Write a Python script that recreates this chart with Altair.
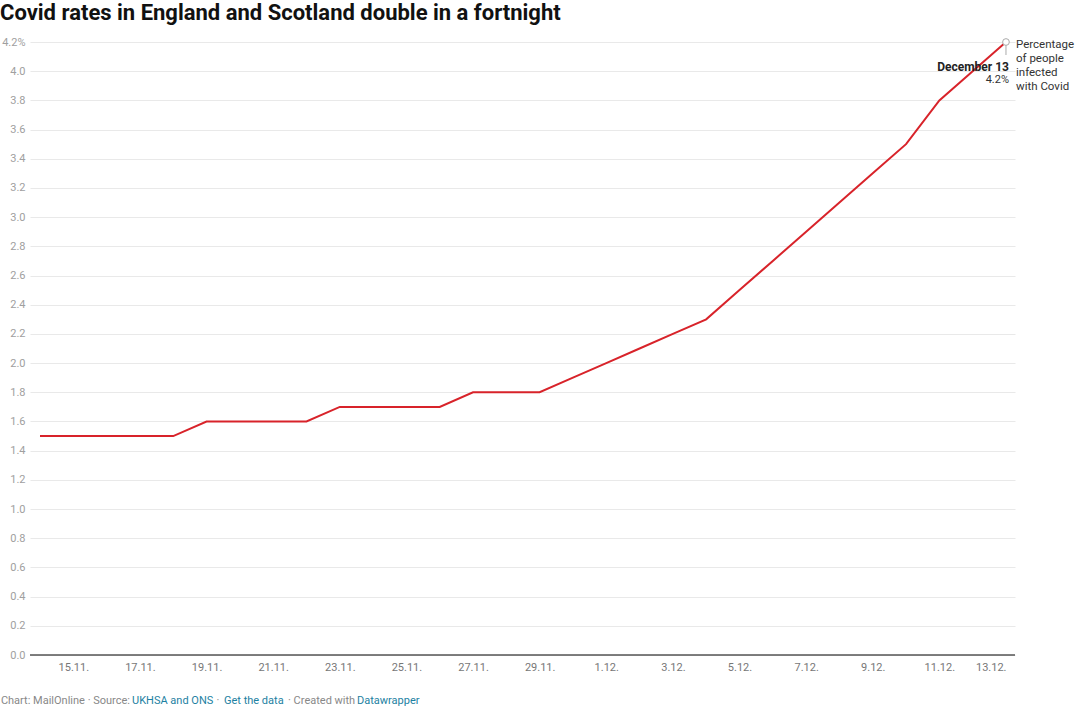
import altair as alt
import pandas as pd

# ---- data ----
dates = [
    "2021-11-14", "2021-11-15", "2021-11-16", "2021-11-17", "2021-11-18",
    "2021-11-19", "2021-11-20", "2021-11-21", "2021-11-22", "2021-11-23",
    "2021-11-24", "2021-11-25", "2021-11-26", "2021-11-27", "2021-11-28",
    "2021-11-29", "2021-11-30", "2021-12-01", "2021-12-02", "2021-12-03",
    "2021-12-04", "2021-12-05", "2021-12-06", "2021-12-07", "2021-12-08",
    "2021-12-09", "2021-12-10", "2021-12-11", "2021-12-12", "2021-12-13",
]
values = [
    1.5, 1.5, 1.5, 1.5, 1.5,
    1.6, 1.6, 1.6, 1.6, 1.7,
    1.7, 1.7, 1.7, 1.8, 1.8,
    1.8, 1.9, 2.0, 2.1, 2.2,
    2.3, 2.5, 2.7, 2.9, 3.1,
    3.3, 3.5, 3.8, 4.0, 4.2,
]
x_tick_dates = [
    (2021, 11, 15), (2021, 11, 17), (2021, 11, 19), (2021, 11, 21),
    (2021, 11, 23), (2021, 11, 25), (2021, 11, 27), (2021, 11, 29),
    (2021, 12, 1), (2021, 12, 3), (2021, 12, 5), (2021, 12, 7),
    (2021, 12, 9), (2021, 12, 11), (2021, 12, 13),
]
y_ticks = [0.0, 0.2, 0.4, 0.6, 0.8, 1.0, 1.2, 1.4, 1.6, 1.8, 2.0,
           2.2, 2.4, 2.6, 2.8, 3.0, 3.2, 3.4, 3.6, 3.8, 4.0, 4.2]

title_text = "Covid rates in England and Scotland double in a fortnight"
legend_text = "Percentage\nof people\ninfected\nwith Covid"
last_label = "December 13"
last_value = "4.2%"

df = pd.DataFrame({"date": dates, "value": values})
last = df.tail(1)

FONT = "Roboto"
RED = "#d8232a"
LINK = "#1d81a2"
GREY = "#888888"

x_scale = alt.Scale(
    type="utc",
    domain=[
        alt.DateTime(year=2021, month=11, date=13, hours=16, minutes=48, utc=True),
        alt.DateTime(year=2021, month=12, date=13, hours=6, minutes=30, utc=True),
    ],
)
y_scale = alt.Scale(domain=[0, 4.2], nice=False, zero=True)

x_axis = alt.Axis(
    values=[alt.DateTime(year=y, month=m, date=d, utc=True) for (y, m, d) in x_tick_dates],
    labelExpr="utcFormat(datum.value, '%-d.%-m.')",
    title=None, domain=False, ticks=False, tickSize=0, grid=False,
    labelPadding=6, labelFontSize=11, labelColor="#777777", labelFont=FONT,
    labelFlush=15, labelBaseline="top", labelOverlap=False,
)
y_axis = alt.Axis(
    values=y_ticks,
    labelExpr="datum.value >= 4.19 ? '4.2%' : format(datum.value, '.1f')",
    title=None, domain=False, ticks=False, tickSize=0,
    grid=True, gridColor="#e9e9e9", gridWidth=1,
    labelPadding=5, labelFontSize=11, labelColor="#a0a0a0", labelFont=FONT,
    labelAlign="right", labelOverlap=False,
)

X = alt.X("date:T", scale=x_scale, axis=x_axis)
Y = alt.Y("value:Q", scale=y_scale, axis=y_axis)

line = alt.Chart(df).mark_line(color=RED, strokeWidth=2).encode(x=X, y=Y)

baseline = alt.Chart(pd.DataFrame({"value": [0.0]})).mark_rule(
    color="#555555", strokeWidth=1.5
).encode(y=Y)

end_tick = alt.Chart(last).mark_rule(color="#aaaaaa", strokeWidth=1).encode(
    x=X, y=alt.value(3), y2=alt.value(13)
)
end_point = alt.Chart(last).mark_point(
    shape="circle", size=45, filled=True, fill="white", stroke="#aaaaaa", strokeWidth=1, opacity=1
).encode(x=X, y=Y)

end_label = alt.Chart(last).mark_text(
    align="right", baseline="middle", font=FONT, fontSize=12, fontWeight="bold",
    color="#222222", dx=3
).encode(x=X, y=alt.value(25), text=alt.value(last_label))

end_value = alt.Chart(last).mark_text(
    align="right", baseline="middle", font=FONT, fontSize=11, color="#333333", dx=3
).encode(x=X, y=alt.value(38), text=alt.value(last_value))

legend = alt.Chart(last).mark_text(
    align="left", baseline="top", font=FONT, fontSize=11.5, color="#333333",
    lineBreak="\n", lineHeight=14
).encode(x=alt.value(986), y=alt.value(-3), text=alt.value(legend_text))

title = alt.Chart(last).mark_text(
    align="left", baseline="middle", font=FONT, fontSize=22, fontWeight="bold", color="#111111"
).encode(x=alt.value(-30), y=alt.value(-29), text=alt.value(title_text))

footer_parts = [
    ("Chart: MailOnline · Source:", 100, "right", GREY),
    ("UKHSA and ONS", 102, "left", LINK),
    ("·", 188, "center", GREY),
    ("Get the data", 194, "left", LINK),
    ("· Created with", 258, "left", GREY),
    ("Datawrapper", 327, "left", LINK),
]
footer_layers = []
for txt, xp, al, col in footer_parts:
    footer_layers.append(
        alt.Chart(last).mark_text(
            align=al, baseline="middle", font=FONT, fontSize=11, color=col
        ).encode(x=alt.value(xp), y=alt.value(659), text=alt.value(txt))
    )

chart = alt.layer(
    line, baseline, end_tick, end_point, end_label, end_value, legend, title, *footer_layers
).properties(
    width=985, height=613,
    padding={"left": 30, "top": 42, "right": 65, "bottom": 51},
    autosize=alt.AutoSizeParams(type="none"),
    background="white",
).configure(
    font=FONT,
    view=alt.ViewConfig(stroke=None, strokeWidth=0),
)

chart.save("out.html", embed_options={"renderer": "svg", "actions": False})
